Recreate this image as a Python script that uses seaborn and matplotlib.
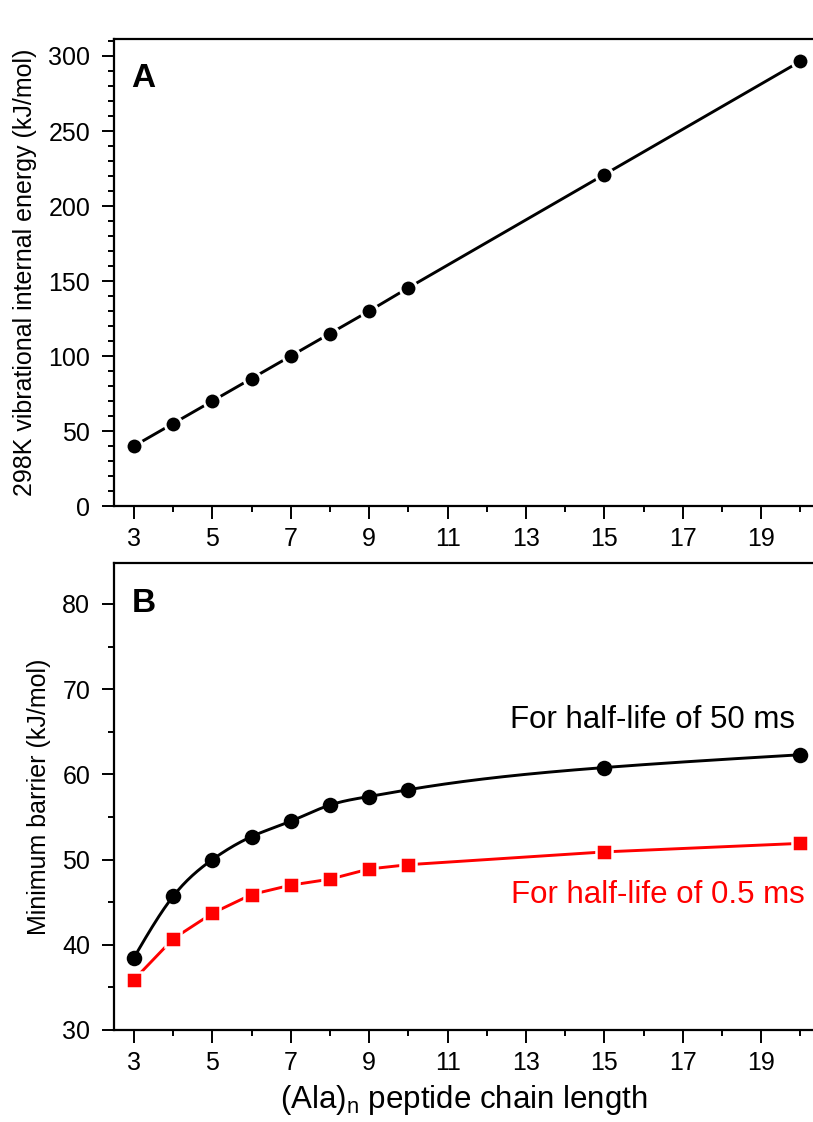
import numpy as np
import pandas as pd
import matplotlib
matplotlib.use("Agg")
import matplotlib.pyplot as plt
from matplotlib.ticker import MultipleLocator
import seaborn as sns

# Peptide chain lengths (Ala)n
chain_length = [3, 4, 5, 6, 7, 8, 9, 10, 15, 20]

# Panel A: 298 K vibrational internal energy (kJ/mol)
internal_energy = [40, 55, 70, 85, 100, 115, 130, 145.5, 221, 296.5]

# Panel B: minimum barrier (kJ/mol) for two half-lives
barrier_50ms = [38.5, 45.7, 50.0, 52.7, 54.5, 56.4, 57.4, 58.2, 60.8, 62.3]
barrier_05ms = [35.9, 40.7, 43.7, 45.9, 47.0, 47.7, 48.9, 49.4, 50.9, 51.9]

x_ticks = [3, 5, 7, 9, 11, 13, 15, 17, 19]
label_50 = "For half-life of 50 ms"
label_05 = "For half-life of 0.5 ms"


def natural_spline(x, y, num=400):
    """Natural cubic spline through (x, y), evaluated on a fine grid."""
    x = np.asarray(x, float)
    y = np.asarray(y, float)
    n = len(x)
    h = np.diff(x)
    A = np.zeros((n, n))
    r = np.zeros(n)
    A[0, 0] = A[-1, -1] = 1.0
    for i in range(1, n - 1):
        A[i, i - 1] = h[i - 1]
        A[i, i] = 2 * (h[i - 1] + h[i])
        A[i, i + 1] = h[i]
        r[i] = 6 * ((y[i + 1] - y[i]) / h[i] - (y[i] - y[i - 1]) / h[i - 1])
    m = np.linalg.solve(A, r)
    xs = np.linspace(x[0], x[-1], num)
    idx = np.clip(np.searchsorted(x, xs) - 1, 0, n - 2)
    x0, x1 = x[idx], x[idx + 1]
    y0, y1 = y[idx], y[idx + 1]
    m0, m1 = m[idx], m[idx + 1]
    hh = x1 - x0
    a = (x1 - xs) / hh
    b = (xs - x0) / hh
    ys = a * y0 + b * y1 + ((a ** 3 - a) * m0 + (b ** 3 - b) * m1) * hh ** 2 / 6
    return xs, ys


sns.set_theme(style="ticks")
plt.rcParams["font.family"] = ["Liberation Sans", "DejaVu Sans"]
plt.rcParams.update({
    "axes.linewidth": 1.6,
    "text.color": "black",
    "axes.labelcolor": "black",
    "xtick.color": "black",
    "ytick.color": "black",
    "axes.edgecolor": "black",
})

fig = plt.figure(figsize=(8.13, 11.22), dpi=100)
left, right = 0.1402, 1.0
axA = fig.add_axes([left, 0.549, right - left, 0.9652 - 0.549])
axB = fig.add_axes([left, 0.0820, right - left, 0.4982 - 0.0820])

df_a = pd.DataFrame({"n": chain_length, "E": internal_energy})
df_b = pd.DataFrame({"n": chain_length, "b50": barrier_50ms, "b05": barrier_05ms})

# Panel A
sns.lineplot(data=df_a, x="n", y="E", ax=axA, color="black", lw=2.1,
             marker="o", markersize=12, markeredgecolor="white",
             markeredgewidth=2.0)

# Panel B: smooth curve for 50 ms, straight segments for 0.5 ms
xs, ys = natural_spline(chain_length, barrier_50ms)
sns.lineplot(x=xs, y=ys, ax=axB, color="black", lw=2.1, sort=False)
sns.scatterplot(data=df_b, x="n", y="b50", ax=axB, color="black",
                marker="o", s=125, edgecolor="black", linewidth=0, zorder=3)
sns.lineplot(data=df_b, x="n", y="b05", ax=axB, color="#ff0000", lw=2.1,
             marker="s", markersize=12, markeredgecolor="white",
             markeredgewidth=1.8, zorder=3)

axA.set_ylim(0, 311.3)
axB.set_ylim(30, 84.8)
axA.yaxis.set_major_locator(MultipleLocator(50))
axA.yaxis.set_minor_locator(MultipleLocator(10))
axB.yaxis.set_major_locator(MultipleLocator(10))
axB.yaxis.set_minor_locator(MultipleLocator(5))

for ax in (axA, axB):
    ax.set_xlim(2.49, 20.32)
    ax.set_xticks(x_ticks)
    ax.set_xticks([4, 6, 8, 10, 12, 14, 16, 18, 20], minor=True)
    ax.spines["right"].set_visible(False)
    ax.spines["top"].set_visible(True)
    ax.tick_params(axis="both", which="major", direction="out", length=9,
                   width=1.4, labelsize=18, color="black")
    ax.tick_params(axis="both", which="minor", direction="out", length=4.5,
                   width=1.4, color="black")
    ax.tick_params(axis="y", which="major", pad=8)
    ax.tick_params(axis="x", which="major", pad=6)
    ax.tick_params(top=False, right=False, which="both")
    for sp in ax.spines.values():
        sp.set_color("black")
        sp.set_linewidth(1.6)

axA.set_xlabel("")
axA.set_ylabel("298K vibrational internal energy (kJ/mol)", fontsize=18,
               labelpad=8)
axB.set_ylabel("Minimum barrier (kJ/mol)", fontsize=18, labelpad=8)
axB.set_xlabel(r"(Ala)$_\mathregular{n}$ peptide chain length", fontsize=22.5,
               labelpad=6)

axA.text(0.025, 0.949, "A", transform=axA.transAxes, fontsize=24,
         fontweight="bold", ha="left", va="top")
axB.text(0.025, 0.947, "B", transform=axB.transAxes, fontsize=24,
         fontweight="bold", ha="left", va="top")

axB.text(19.86, 66.4, label_50, color="black", fontsize=22.5,
         ha="right", va="center")
axB.text(20.12, 45.85, label_05, color="#ff0000", fontsize=22.5,
         ha="right", va="center")

fig.savefig("out.png", dpi=100)
